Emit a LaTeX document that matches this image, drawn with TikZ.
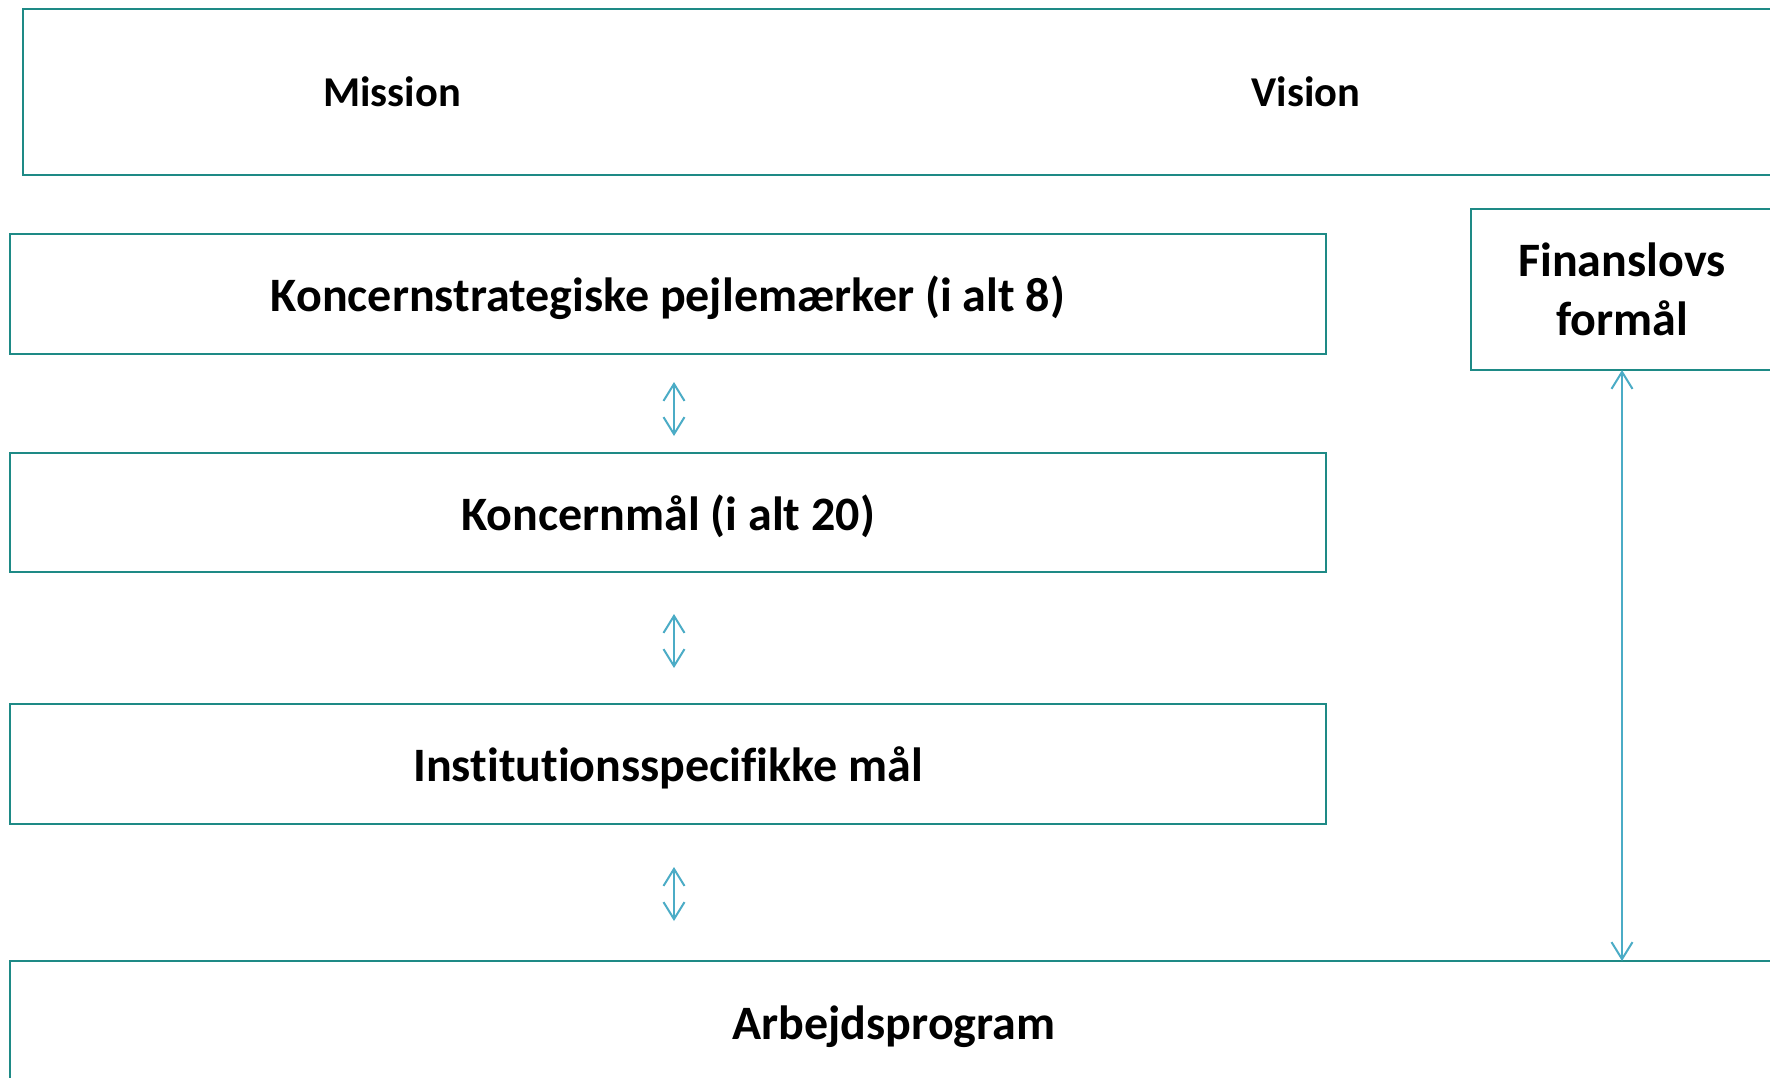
\documentclass[tikz,border=0pt]{standalone}
\usepackage{fontspec}
\setmainfont{Carlito}[Ligatures=NoCommon]
\usetikzlibrary{arrows.meta}
\definecolor{boxline}{RGB}{30,138,134}
\definecolor{arrowc}{RGB}{75,172,198}
\newcommand{\lowtxt}[1]{\raisebox{-3.5pt}[\height][\depth]{#1}}
\begin{document}
\begin{tikzpicture}[x=1pt,y=-1pt,
  box/.style={draw=boxline,line width=2.6pt,rectangle,inner sep=0pt,outer sep=0pt,
    font=\fontsize{48}{58}\selectfont\bfseries},
  lbl/.style={inner sep=0pt,font=\fontsize{42.5}{50}\selectfont\bfseries},
  link/.style={draw=arrowc,line width=2pt,{Straight Barb[length=17pt,width=21pt]}-{Straight Barb[length=17pt,width=21pt]}}]
\useasboundingbox (0,0) rectangle (1770,1077);
\clip (0,0) rectangle (1770,1077);
\fill[white] (0,0) rectangle (1770,1077);
% top box
\node[box,minimum width=1780pt,minimum height=166pt,anchor=north west] (top) at (23,9) {};
\node[lbl] (mission) at (392,92) {Mission};
\node[lbl] (vision) at (1306,92) {Vision};
% left column
\node[box,minimum width=1316pt,minimum height=120pt] (k1) at (668,294) {\lowtxt{Koncernstrategiske pejlemærker (i alt 8)}};
\node[box,minimum width=1316pt,minimum height=119pt] (k2) at (668,512.5) {\lowtxt{Koncernmål (i alt 20)}};
\node[box,minimum width=1316pt,minimum height=120pt] (k3) at (668,764) {\lowtxt{Institutionsspecifikke mål}};
\node[box,minimum width=1790pt,minimum height=160pt,anchor=north west] (arb) at (10,961) {};
\node[lbl,font=\fontsize{48}{58}\selectfont\bfseries] (arbt) at (894,1026.5) {Arbejdsprogram};
% right box
\node[box,minimum width=302pt,minimum height=161pt,anchor=north west,align=center,
  font=\fontsize{48}{58.5}\selectfont\bfseries] (fin) at (1471,209) {Finanslovs\\formål};
% connectors
\draw[link,shorten <=28pt,shorten >=17pt] ([xshift=6pt]k1.south) -- ([xshift=6pt]k2.north);
\draw[link,shorten <=42pt,shorten >=36pt] ([xshift=6pt]k2.south) -- ([xshift=6pt]k3.north);
\draw[link,shorten <=43pt,shorten >=40pt] ([xshift=6pt]k3.south) -- ([xshift=6pt]k3.south |- arb.north);
\draw[link] (fin.south) -- (fin.south |- arb.north);
\end{tikzpicture}
\end{document}
